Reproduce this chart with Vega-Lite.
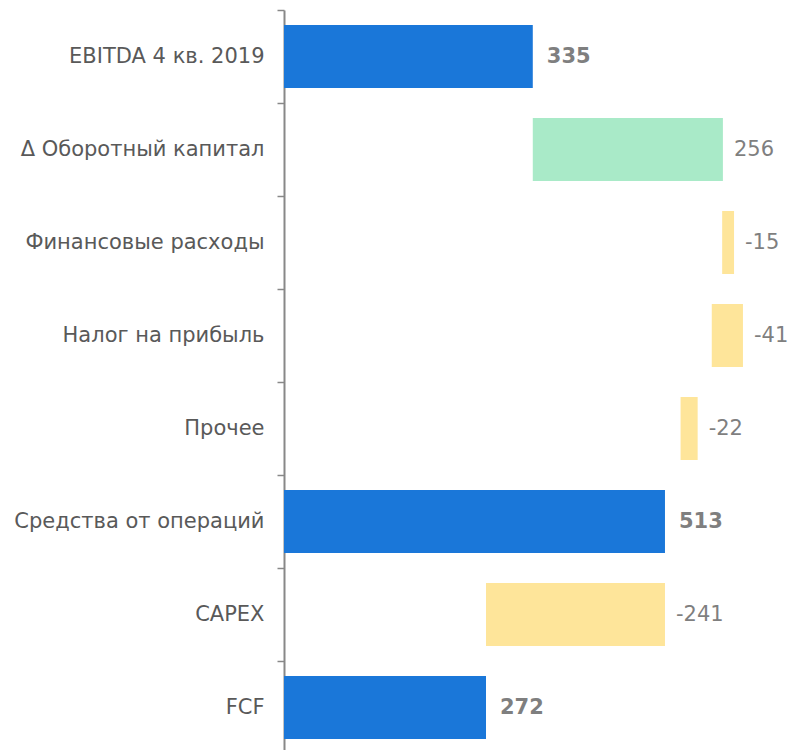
{
  "$schema": "https://vega.github.io/schema/vega-lite/v6.json",
  "width": 505,
  "height": 744,
  "autosize": {"type": "none"},
  "padding": {"left": 284, "top": 10, "right": 0, "bottom": 0},
  "background": "white",
  "config": {"view": {"stroke": null}, "font": "DejaVu Sans"},
  "data": {
    "values": [
      {"cat": "EBITDA 4 кв. 2019", "start": 0, "end": 335, "label": "335", "kind": "total"},
      {"cat": "Δ Оборотный капитал\u2004", "start": 335, "end": 591, "label": "256", "kind": "up"},
      {"cat": "Финансовые расходы", "start": 590, "end": 606, "label": "-15", "kind": "down"},
      {"cat": "Налог на прибыль", "start": 576, "end": 618, "label": "-41", "kind": "down"},
      {"cat": "Прочее", "start": 534, "end": 557, "label": "-22", "kind": "down"},
      {"cat": "Средства от операций", "start": 0, "end": 513, "label": "513", "kind": "total"},
      {"cat": "CAPEX", "start": 272, "end": 513, "label": "-241", "kind": "down"},
      {"cat": "FCF", "start": 0, "end": 272, "label": "272", "kind": "total"}
    ]
  },
  "encoding": {
    "y": {
      "field": "cat",
      "type": "nominal",
      "sort": null,
      "scale": {"paddingInner": 0, "paddingOuter": 0},
      "axis": {
        "title": null,
        "domainColor": "#888888",
        "domainWidth": 2,
        "tickColor": "#888888",
        "tickWidth": 1.5,
        "tickSize": 7,
        "tickBand": "extent",
        "labelFontSize": 21,
        "labelColor": "#595959",
        "labelPadding": 13,
        "labelLimit": 400,
        "labelFont": "DejaVu Sans"
      }
    }
  },
  "layer": [
    {
      "mark": {"type": "bar", "height": {"band": 0.68}},
      "encoding": {
        "x": {"field": "start", "type": "quantitative", "scale": {"domain": [0, 680], "nice": false, "zero": true}, "axis": null},
        "x2": {"field": "end"},
        "color": {
          "field": "kind",
          "type": "nominal",
          "scale": {"domain": ["total", "up", "down"], "range": ["#1a77d9", "#a9eac8", "#fee59a"]},
          "legend": null
        }
      }
    },
    {
      "transform": [{"filter": "datum.kind == 'total'"}],
      "mark": {"type": "text", "align": "left", "baseline": "middle", "dx": 14, "fontSize": 21, "fontWeight": "bold", "color": "#7f7f7f", "font": "DejaVu Sans"},
      "encoding": {
        "x": {"field": "end", "type": "quantitative"},
        "text": {"field": "label"}
      }
    },
    {
      "transform": [{"filter": "datum.kind != 'total'"}],
      "mark": {"type": "text", "align": "left", "baseline": "middle", "dx": 11, "fontSize": 21, "color": "#7f7f7f", "font": "DejaVu Sans"},
      "encoding": {
        "x": {"field": "end", "type": "quantitative"},
        "text": {"field": "label"}
      }
    }
  ]
}
